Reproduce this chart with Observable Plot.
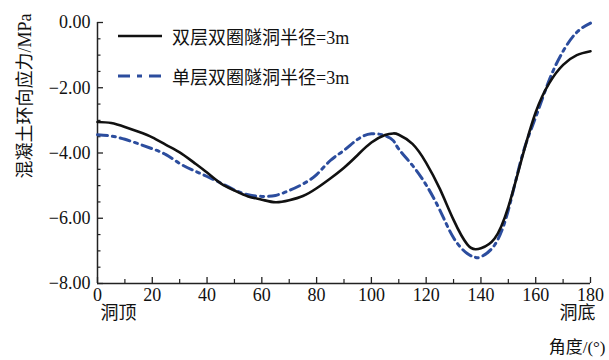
<!DOCTYPE html>
<html>
<head>
<meta charset="utf-8">
<script src="https://cdn.jsdelivr.net/npm/d3@7"></script>
<script src="https://cdn.jsdelivr.net/npm/@observablehq/plot@0.6"></script>
<style>
  html, body { margin: 0; padding: 0; background: #fff; }
  #wrap { position: relative; width: 609px; height: 360px; font-family: "Liberation Serif", "Noto Sans CJK SC", serif; }
  .legend { position: absolute; left: 118px; font-size: 18px; color: #111; display: flex; align-items: center; white-space: nowrap; }
  .legend svg { margin-right: 10px; }
</style>
</head>
<body>
<div id="wrap"></div>
<script>
const angles = [0,5,10,15,20,25,30,35,40,45,50,55,60,65,70,75,80,85,90,95,100,105,108,110,115,120,125,130,135,138,140,145,150,155,160,165,170,175,180];
const doubleLayer = [-3.05,-3.08,-3.2,-3.35,-3.52,-3.75,-3.98,-4.28,-4.6,-4.93,-5.15,-5.33,-5.43,-5.51,-5.45,-5.32,-5.08,-4.78,-4.45,-4.06,-3.68,-3.45,-3.4,-3.44,-3.72,-4.3,-5.1,-6.05,-6.8,-6.95,-6.92,-6.62,-5.65,-4.15,-2.75,-1.85,-1.3,-1.0,-0.88];
const singleLayer = [-3.44,-3.48,-3.58,-3.72,-3.87,-4.05,-4.32,-4.53,-4.72,-4.92,-5.13,-5.28,-5.33,-5.3,-5.15,-4.95,-4.66,-4.23,-3.92,-3.58,-3.41,-3.47,-3.62,-3.88,-4.38,-4.98,-5.75,-6.6,-7.08,-7.2,-7.18,-6.82,-5.75,-4.1,-2.9,-1.75,-0.88,-0.3,-0.02];
const seriesNames = ["双层双圈隧洞半径=3m", "单层双圈隧洞半径=3m"];
const xTicks = [0,20,40,60,80,100,120,140,160,180];
const xMinor = [10,30,50,70,90,110,130,150,170];
const yTicks = [-8,-6,-4,-2,0];
const yMinor = [-7.5,-7,-6.5,-5.5,-5,-4.5,-3.5,-3,-2.5,-1.5,-1,-0.5];
const yTitle = "混凝土环向应力/MPa";
const xTitle = "角度/(°)";
const xStartLabel = "洞顶";
const xEndLabel = "洞底";

const rows = angles.map((a, i) => ({angle: a, d: doubleLayer[i], s: singleLayer[i]}));

const W = 609, H = 360, mL = 97, mR = 19, mT = 22, mB = 77;
const innerW = W - mL - mR, innerH = H - mT - mB;
const blue = "#2c4d9e";
const fmt = d => d.toFixed(2).replace("-", "\u2212");

const chart = Plot.plot({
  width: W, height: H,
  marginLeft: mL, marginRight: mR, marginTop: mT, marginBottom: mB,
  style: {fontFamily: '"Liberation Serif", "Noto Sans CJK SC", serif', fontSize: "18px", color: "#111", background: "transparent"},
  x: {domain: [0, 180]},
  y: {domain: [-8, 0]},
  marks: [
    Plot.axisX(xTicks, {tickSize: 0, tickPadding: 5, fontSize: 18, tickFormat: d => String(d), label: null}),
    Plot.axisY(yTicks, {tickSize: 0, tickPadding: 7, fontSize: 18, tickFormat: fmt, label: null}),
    Plot.tickY(yTicks, {y: d => d, insetRight: innerW - 6, stroke: "#222", strokeWidth: 1.3}),
    Plot.tickY(yMinor, {y: d => d, insetRight: innerW - 3.5, stroke: "#222", strokeWidth: 1.2}),
    Plot.tickX(xTicks, {x: d => d, insetTop: innerH - 6, stroke: "#222", strokeWidth: 1.3}),
    Plot.tickX(xMinor, {x: d => d, insetTop: innerH - 4, stroke: "#222", strokeWidth: 1.2}),
    Plot.ruleX([0], {stroke: "#222", strokeWidth: 1.5}),
    Plot.ruleY([-8], {stroke: "#222", strokeWidth: 1.5}),
    Plot.line(rows, {x: "angle", y: "s", stroke: blue, strokeWidth: 3, strokeDasharray: "10,5,3,5", curve: "natural"}),
    Plot.line(rows, {x: "angle", y: "d", stroke: "#111", strokeWidth: 2.6, curve: "natural"}),
    Plot.text([xStartLabel], {x: () => 0, frameAnchor: "bottom", textAnchor: "start", dx: 3, dy: 35, fontSize: 18}),
    Plot.text([xEndLabel], {x: () => 180, frameAnchor: "bottom", textAnchor: "middle", dx: -13, dy: 35, fontSize: 18}),
    Plot.text([xTitle], {x: () => 180, frameAnchor: "bottom", textAnchor: "end", dx: 15, dy: 69, fontSize: 17}),
    Plot.text([yTitle], {frameAnchor: "top-left", rotate: -90, textAnchor: "end", dx: -79, dy: -9, fontSize: 18})
  ]
});

const wrap = document.getElementById("wrap");
wrap.appendChild(chart);

function legendRow(name, top, stroke, dash, sw) {
  const div = document.createElement("div");
  div.className = "legend";
  div.style.top = top + "px";
  div.innerHTML = `<svg width="44" height="10"><line x1="0" y1="5" x2="44" y2="5" stroke="${stroke}" stroke-width="${sw}" ${dash ? `stroke-dasharray="${dash}"` : ""}/></svg><span>${name}</span>`;
  wrap.appendChild(div);
}
legendRow(seriesNames[0], 23, "#111", null, 2.6);
legendRow(seriesNames[1], 63, blue, "12,7,5,7", 3);
</script>
</body>
</html>
